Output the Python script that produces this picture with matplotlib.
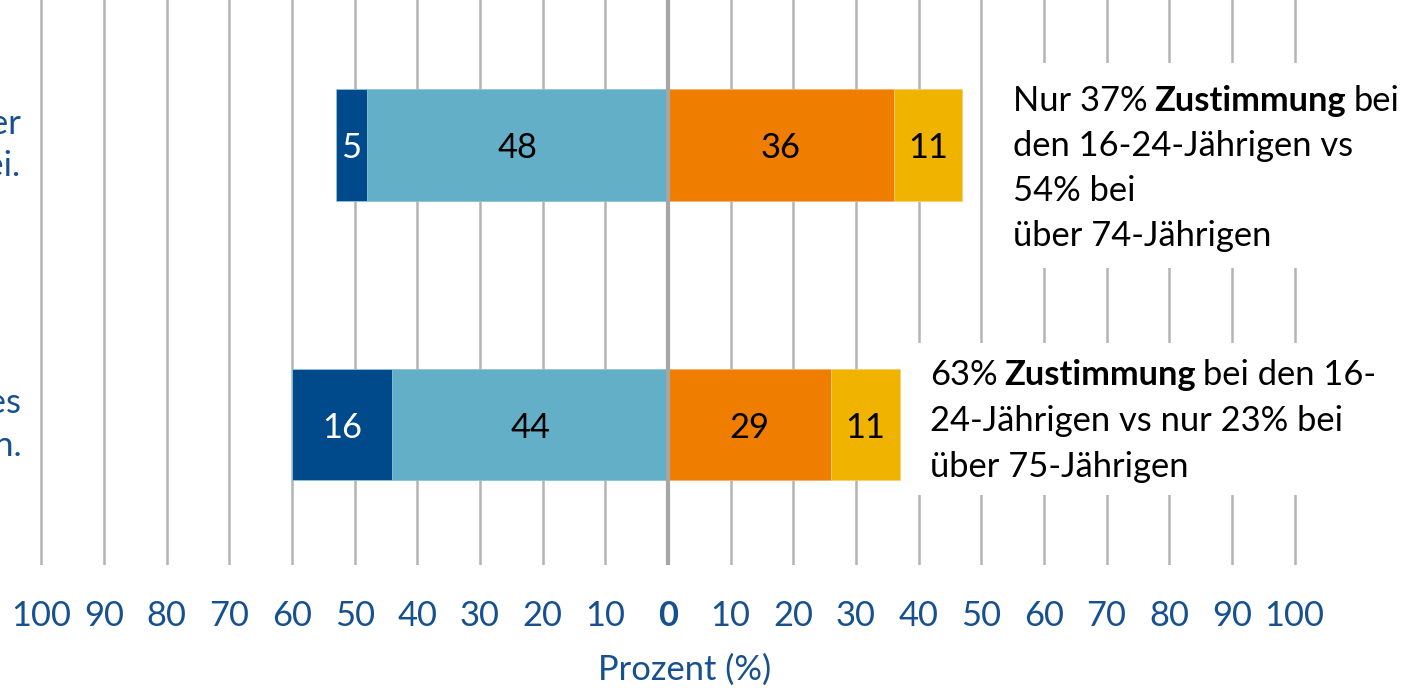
import numpy as np
import matplotlib.pyplot as plt
from matplotlib.patches import Rectangle

plt.rcParams['font.family'] = ['Lato', 'DejaVu Sans']

# statements (only the ends are visible in the original, the rest is cut off)
categories = ['Ich habe großes Vertrauen in die Arbeit der\nPolizei.',
              'Ich fühle mich als Teil des\nGanzen im Großen und Ganzen.']
strongly_disagree = [5, 16]
disagree = [48, 44]
agree = [36, 26]          # drawn width of the orange bar
agree_labels = [36, 29]   # label printed on the orange bar
strongly_agree = [11, 11]

ticks = np.arange(-100, 101, 10)
tick_labels = [str(abs(t)) for t in ticks]

c_dark = '#004a8b'
c_light = '#63afc8'
c_orange = '#ee7d00'
c_yellow = '#f0b400'
c_text_blue = '#17508f'
fs = 24.8

fig = plt.figure(figsize=(14.23, 6.88), dpi=100)
ax = fig.add_axes([0, 123 / 688, 1, 565 / 688])

y = np.arange(len(categories))
h = 0.40
sd = np.array(strongly_disagree)
d = np.array(disagree)
a = np.array(agree)
sa = np.array(strongly_agree)

ax.barh(y, -d, height=h, color=c_light, edgecolor='#8cc4d8', linewidth=0.6, zorder=2)
ax.barh(y, -sd, left=-d, height=h, color=c_dark, edgecolor='#8cc4d8', linewidth=0.6, zorder=2)
ax.barh(y, a, height=h, color=c_orange, edgecolor='#f5b070', linewidth=0.6, zorder=2)
ax.barh(y, sa, left=a, height=h, color=c_yellow, edgecolor='#f5d070', linewidth=0.6, zorder=2)

ty = y + 0.012
for i in range(len(y)):
    ax.text(-d[i] - sd[i] / 2, ty[i], str(sd[i]), ha='center', va='center',
            color='white', fontsize=fs, zorder=4)
    ax.text(-d[i] / 2, ty[i], str(d[i]), ha='center', va='center',
            color='black', fontsize=fs, zorder=4)
    ax.text(a[i] / 2, ty[i], str(agree_labels[i]), ha='center', va='center',
            color='black', fontsize=fs, zorder=4)
    ax.text(a[i] + sa[i] / 2, ty[i], str(sa[i]), ha='center', va='center',
            color='black', fontsize=fs, zorder=4)
    ax.text(-103.2, y[i], categories[i], ha='right', va='center', ma='right',
            color=c_text_blue, fontsize=fs, linespacing=1.4)

# grid
for t in ticks:
    if t == 0:
        continue
    ax.axvline(t, color='#b4b4b4', linewidth=1.8, zorder=1)
ax.axvline(0, color='#a6a6a6', linewidth=3, zorder=3)

ax.set_xlim(-106.6, 120.5)
ax.set_ylim(1.503, -0.519)
ax.set_xticks(ticks)
ax.set_xticklabels(tick_labels)
ax.tick_params(axis='x', length=0, pad=25, labelsize=fs, labelcolor=c_text_blue)
for lab, t in zip(ax.get_xticklabels(), ticks):
    if t == 0:
        lab.set_fontweight('bold')
ax.set_yticks([])
for s in ax.spines.values():
    s.set_visible(False)

fig.text(685 / 1423, 1 - 680 / 688, 'Prozent (%)', ha='center', va='baseline',
         color=c_text_blue, fontsize=fs)

# white boxes behind the comments
ax.add_patch(Rectangle((995 / 1423, 1 - 268 / 565), 410 / 1423, 205 / 565,
                       transform=ax.transAxes, facecolor='white', edgecolor='none', zorder=3))
ax.add_patch(Rectangle((907 / 1423, 1 - 495 / 565), 490 / 1423, 152 / 565,
                       transform=ax.transAxes, facecolor='white', edgecolor='none', zorder=3))


def rich_line(x_px, base_px, parts):
    last = None
    for txt, bold in parts:
        w = 'bold' if bold else 'normal'
        if last is None:
            last = fig.text(x_px / 1423, 1 - base_px / 688, txt, ha='left', va='baseline',
                            fontsize=fs, fontweight=w, color='black', zorder=5)
        else:
            last = ax.annotate(txt, xy=(1, 0), xycoords=last, xytext=(5, 0),
                               textcoords='offset points', ha='left', va='bottom',
                               fontsize=fs, fontweight=w, color='black', zorder=5,
                               annotation_clip=False)


top_lines = [
    [('Nur 37%', False), ('Zustimmung', True), ('bei', False)],
    [('den 16-24-Jährigen vs', False)],
    [('54% bei', False)],
    [('über 74-Jährigen', False)],
]
for k, parts in enumerate(top_lines):
    rich_line(1013, 111 + 45 * k, parts)

bottom_lines = [
    [('63%', False), ('Zustimmung', True), ('bei den 16-', False)],
    [('24-Jährigen vs nur 23% bei', False)],
    [('über 75-Jährigen', False)],
]
for k, parts in enumerate(bottom_lines):
    rich_line(930, 385 + 46 * k, parts)

fig.savefig('out.png', dpi=100)
